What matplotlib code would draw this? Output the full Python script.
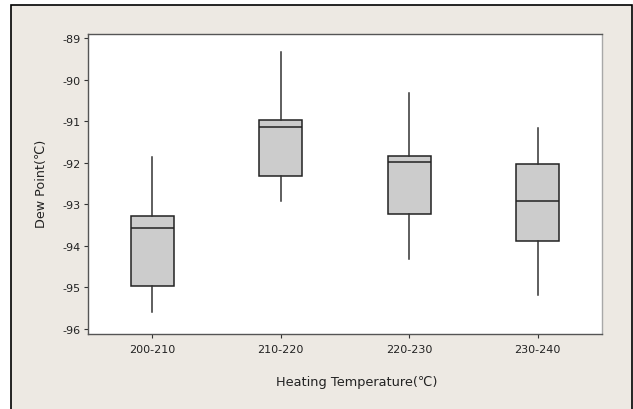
import matplotlib
matplotlib.use("Agg")
import matplotlib.pyplot as plt
import matplotlib.patches as mpatches

# ── DATA ─────────────────────────────────────────────────────────────────────
groups   = ["200-210", "210-220", "220-230", "230-240"]
wlo      = [-95.60, -92.93, -94.32, -95.18]
q1       = [-94.97, -92.31, -93.23, -93.88]
medians  = [-93.57, -91.15, -91.99, -92.91]
q3       = [-93.29, -90.97, -91.83, -92.04]
whi      = [-91.86, -89.33, -90.33, -91.17]
yticks   = [-96, -95, -94, -93, -92, -91, -90, -89]

BG     = "#ede9e3"
FONT   = ["DejaVu Sans", "Noto Sans CJK KR"]

plt.rcParams['font.family'] = FONT

fig = plt.figure(figsize=(6.33, 4.10), dpi=100)
fig.patch.set_facecolor("white")

# beige panel with black frame (left/top/right visible), behind the axes
frame = mpatches.Rectangle((10.5 / 633, -0.05), (631.5 - 10.5) / 633, 1.05 - 5.5 / 410,
                           transform=fig.transFigure, facecolor=BG,
                           edgecolor="black", linewidth=1.2, zorder=-10)
fig.patches.append(frame)

ax = fig.add_axes([88 / 633, 1 - 335 / 410, 514 / 633, 300 / 410])
ax.set_facecolor("white")

stats = []
for i, g in enumerate(groups):
    stats.append({"label": g, "whislo": wlo[i], "q1": q1[i], "med": medians[i],
                  "q3": q3[i], "whishi": whi[i], "fliers": []})

ax.bxp(stats, positions=range(1, len(groups) + 1), widths=0.335,
       showcaps=False, showfliers=False, patch_artist=True,
       boxprops=dict(facecolor="#cccccc", edgecolor="#222222", linewidth=1.1),
       medianprops=dict(color="#222222", linewidth=1.1),
       whiskerprops=dict(color="#333333", linewidth=1.1))

ax.set_xlim(0.5, 4.5)
ax.set_ylim(-96.12, -88.904)
ax.set_yticks(yticks)
ax.set_yticklabels([str(v) for v in yticks])

ax.tick_params(axis="both", direction="out", length=3, width=0.8,
               colors="#333333", labelsize=8, labelcolor="#222222")
ax.tick_params(axis="x", pad=4)
ax.tick_params(axis="y", pad=2)

for side in ("left", "top", "bottom"):
    ax.spines[side].set_color("#555555")
    ax.spines[side].set_linewidth(1.0)
ax.spines["right"].set_color("#a8a8a8")
ax.spines["right"].set_linewidth(1.0)

fig.text(42 / 633, 1 - 184 / 410, "Dew Point(\u2103)", rotation=90,
         ha="center", va="center", fontsize=9.2, color="#222222")
fig.text(357 / 633, 1 - 383 / 410, "Heating Temperature(\u2103)",
         ha="center", va="center", fontsize=9.3, color="#222222")

fig.savefig("out.png", dpi=100, facecolor=fig.get_facecolor())
